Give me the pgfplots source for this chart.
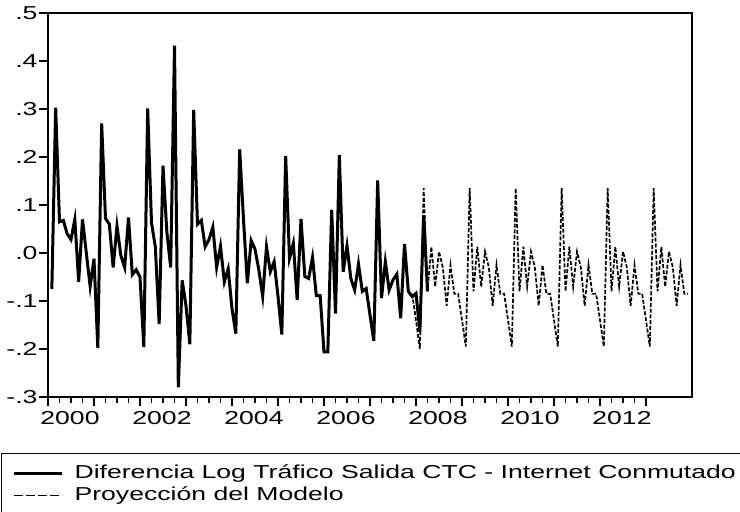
\documentclass[border=0pt]{standalone}
\usepackage{fontspec}
\setmainfont{Liberation Sans}[FakeStretch=1.42]
\usepackage{pgfplots}
\pgfplotsset{compat=1.18}
\usepackage{pgfplotstable}

% month index t: 0 = 2000m1
\pgfplotstableread{
t v
1 -0.075
2 0.303
3 0.065
4 0.068
5 0.040
6 0.028
7 0.070
8 -0.060
9 0.070
10 0.000
11 -0.070
12 -0.012
13 -0.198
14 0.270
15 0.072
16 0.060
17 -0.030
18 0.056
19 -0.005
20 -0.030
21 0.074
22 -0.045
23 -0.035
24 -0.050
25 -0.196
26 0.301
27 0.063
28 0.013
29 -0.148
30 0.182
31 0.044
32 -0.030
33 0.432
34 -0.280
35 -0.057
36 -0.110
37 -0.190
38 0.298
39 0.060
40 0.068
41 0.013
42 0.028
43 0.054
44 -0.030
45 0.014
46 -0.060
47 -0.033
48 -0.116
49 -0.168
50 0.216
51 0.070
52 -0.063
53 0.026
54 0.008
55 -0.035
56 -0.090
57 0.013
58 -0.039
59 -0.018
60 -0.090
61 -0.170
62 0.202
63 -0.011
64 0.020
65 -0.098
66 0.071
67 -0.049
68 -0.053
69 -0.009
70 -0.089
71 -0.089
72 -0.206
73 -0.206
74 0.090
75 -0.126
76 0.204
77 -0.039
78 0.015
79 -0.053
80 -0.077
81 -0.023
82 -0.080
83 -0.074
84 -0.129
85 -0.183
86 0.151
87 -0.094
88 -0.018
89 -0.077
90 -0.056
91 -0.044
92 -0.136
93 0.019
94 -0.080
95 -0.091
96 -0.084
97 -0.164
98 0.079
99 -0.080
}\actual

\pgfplotstableread{
t v
95 -0.085
96 -0.140
97 -0.200
98 0.135
99 -0.080
100 0.013
101 -0.070
102 0.003
103 -0.030
104 -0.110
105 -0.025
106 -0.085
107 -0.085
108 -0.140
109 -0.195
110 0.135
111 -0.080
112 0.013
113 -0.070
114 0.003
115 -0.030
116 -0.110
117 -0.025
118 -0.085
119 -0.085
120 -0.140
121 -0.195
122 0.135
123 -0.080
124 0.013
125 -0.070
126 0.003
127 -0.030
128 -0.110
129 -0.025
130 -0.085
131 -0.085
132 -0.140
133 -0.195
134 0.135
135 -0.080
136 0.013
137 -0.070
138 0.003
139 -0.030
140 -0.110
141 -0.025
142 -0.085
143 -0.085
144 -0.140
145 -0.195
146 0.135
147 -0.080
148 0.013
149 -0.070
150 0.003
151 -0.030
152 -0.110
153 -0.025
154 -0.085
155 -0.085
156 -0.140
157 -0.195
158 0.135
159 -0.080
160 0.013
161 -0.070
162 0.003
163 -0.030
164 -0.110
165 -0.025
166 -0.085
167 -0.085
}\proj

\begin{document}
\begin{tikzpicture}
\useasboundingbox (-48bp,-115bp) rectangle (692bp,397bp);
\begin{axis}[
  at={(0,0)}, anchor=south west,
  scale only axis, width=644bp, height=384bp,
  xmin=2000, xmax=2014, ymin=-0.3, ymax=0.5,
  axis line style={line width=1.2bp},
  tick align=outside, xtick pos=bottom, ytick pos=left,
  xtick={2000,2001,2002,2003,2004,2005,2006,2007,2008,2009,2010,2011,2012,2013},
  xticklabels={2000,,2002,,2004,,2006,,2008,,2010,,2012,},
  minor x tick num=3,
  ytick={-0.3,-0.2,-0.1,0,0.1,0.2,0.3,0.4,0.5},
  yticklabels={-.3,-.2,-.1,.0,.1,.2,.3,.4,.5},
  major tick length=9bp, minor tick length=6bp,
  every tick/.style={black, line width=1.2bp},
  tick label style={font=\fontsize{18.8}{22}\selectfont},
  xticklabel style={xshift=22bp, yshift=-1.5bp},
  yticklabel style={xshift=2bp},
  legend style={at={(-0.0730,-0.1458)}, anchor=north west, draw=black,
    line width=1.2bp, inner xsep=11bp, inner ysep=11bp,
    font=\fontsize{18.8}{22}\selectfont,
    nodes={inner xsep=0pt, inner ysep=0pt, text height=14bp, text depth=4bp},
    row sep=4bp, column sep=11bp},
  legend cell align=left,
]
\addplot[black, line width=3bp, no markers,
  legend image code/.code={\draw[line width=3bp] (0bp,0bp) -- (48bp,0bp);}]
  table[x expr=2000+\thisrow{t}/12, y=v] {\actual};
\addlegendentry{\makebox[656bp][l]{Diferencia Log Tráfico Salida CTC - Internet Conmutado}}
\addplot[black, line width=1.7bp, dash pattern=on 4bp off 1.8bp, no markers,
  legend image code/.code={\draw[line width=1.7bp, dash pattern=on 8.5bp off 3.5bp] (0bp,0bp) -- (48bp,0bp);}]
  table[x expr=2000+\thisrow{t}/12, y=v] {\proj};
\addlegendentry{Proyección del Modelo}
\end{axis}
\end{tikzpicture}
\end{document}
